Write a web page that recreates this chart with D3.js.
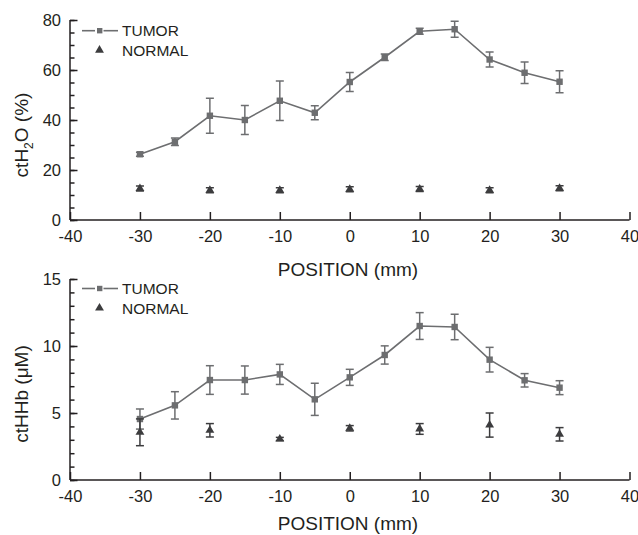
<!DOCTYPE html>
<html><head><meta charset="utf-8">
<script src="https://cdn.jsdelivr.net/npm/d3@7"></script>
<style>body{margin:0;background:#fff}svg{display:block}text{font-family:"Liberation Sans",Arial,sans-serif}</style>
</head><body>
<svg id="c" width="638" height="535"></svg>
<script>
// Data
const positions = [-30,-25,-20,-15,-10,-5,0,5,10,15,20,25,30];
const h2oTumor =    [26.3,31.3,41.7,40.0,47.7,42.9,55.2,65.1,75.5,76.3,64.2,58.9,55.3];
const h2oTumorErr = [0.8,1.5,7.0,5.8,7.9,2.8,3.8,1.3,1.2,3.2,3.0,4.3,4.4];
const normalPositions = [-30,-20,-10,0,10,20,30];
const h2oNormal =    [12.6,11.9,11.9,12.3,12.4,11.9,12.7];
const h2oNormalErr = [1.0,1.0,1.0,1.0,1.0,1.0,1.0];
const hhbTumor =    [4.55,5.57,7.46,7.46,7.88,6.02,7.66,9.33,11.49,11.42,8.98,7.44,6.89];
const hhbTumorErr = [0.75,1.02,1.07,1.05,0.75,1.2,0.6,0.68,1.0,0.95,0.92,0.5,0.52];
const hhbNormal =    [3.56,3.71,3.06,3.86,3.81,4.1,3.41];
const hhbNormalErr = [1.0,0.5,0.12,0.2,0.4,0.9,0.5];
const xTicks = [-40,-30,-20,-10,0,10,20,30,40];

const svg = d3.select("#c");
const AX = "#231f20", TUM = "#6d6e70", NOR = "#3c3c3e";
const x = d3.scaleLinear().domain([-40,40]).range([70,629.5]);
const fmt = d => String(d);

function panel(cfg){
  const y = d3.scaleLinear().domain([0,cfg.ymax]).range([cfg.y0,cfg.y1]);
  const g = svg.append("g");
  // x axis
  const xa = g.append("g").attr("transform",`translate(0,${cfg.y0})`)
    .call(d3.axisBottom(x).tickValues(xTicks).tickSize(-8).tickPadding(0).tickFormat(fmt));
  xa.select(".domain").attr("stroke",AX).attr("stroke-width",1.5).attr("d",`M70,0H629.5`);
  xa.selectAll(".tick line").attr("stroke",AX).attr("stroke-width",1.5);
  xa.selectAll(".tick text").attr("fill","#231f20").attr("font-size",16.5).attr("y",22).attr("dy",0);
  // y axis minor
  const ya2 = g.append("g").attr("transform","translate(70,0)")
    .call(d3.axisRight(y).tickValues(d3.range(0,cfg.ymax+0.001,cfg.minor)).tickSize(4.5).tickFormat(""));
  ya2.select(".domain").remove();
  ya2.selectAll(".tick line").attr("stroke",AX).attr("stroke-width",1.5);
  const ya = g.append("g").attr("transform","translate(70,0)")
    .call(d3.axisLeft(y).tickValues(d3.range(0,cfg.ymax+0.001,cfg.major)).tickSize(0).tickPadding(9).tickFormat(fmt));
  ya.select(".domain").attr("stroke",AX).attr("stroke-width",1.5).attr("d",`M0,${cfg.y0}V${cfg.y1}`);
  ya.selectAll(".tick text").attr("fill","#231f20").attr("font-size",16.5).attr("dy","0.36em");
  ya.selectAll(".tick").append("line").attr("x1",0).attr("x2",7.5).attr("stroke",AX).attr("stroke-width",1.5);

  // tumor line
  const pts = positions.map((p,i)=>({p,v:cfg.tumor[i],e:cfg.tumorErr[i]}));
  g.append("path").datum(pts).attr("fill","none").attr("stroke",TUM).attr("stroke-width",1.6)
    .attr("d",d3.line().x(d=>x(d.p)).y(d=>y(d.v)));
  function errbars(data,color){
    const eb = g.append("g").attr("stroke",color).attr("stroke-width",1.5).attr("fill","none");
    data.forEach(d=>{
      eb.append("line").attr("x1",x(d.p)).attr("x2",x(d.p)).attr("y1",y(d.v-d.e)).attr("y2",y(d.v+d.e));
      eb.append("line").attr("x1",x(d.p)-4).attr("x2",x(d.p)+4).attr("y1",y(d.v-d.e)).attr("y2",y(d.v-d.e));
      eb.append("line").attr("x1",x(d.p)-4).attr("x2",x(d.p)+4).attr("y1",y(d.v+d.e)).attr("y2",y(d.v+d.e));
    });
  }
  errbars(pts,TUM);
  g.append("g").selectAll("rect").data(pts).join("rect")
    .attr("x",d=>x(d.p)-3.2).attr("y",d=>y(d.v)-3.2).attr("width",6.4).attr("height",6.4).attr("fill",TUM);
  // normal
  const npts = normalPositions.map((p,i)=>({p,v:cfg.normal[i],e:cfg.normalErr[i]}));
  errbars(npts,NOR);
  const tri = d3.symbol().type(d3.symbolTriangle).size(34);
  g.append("g").selectAll("path").data(npts).join("path")
    .attr("transform",d=>`translate(${x(d.p)},${y(d.v)})`).attr("d",tri).attr("fill",NOR);

  // legend
  const ly = cfg.legY;
  g.append("line").attr("x1",82).attr("x2",95).attr("y1",ly).attr("y2",ly).attr("stroke",TUM).attr("stroke-width",1.6);
  g.append("line").attr("x1",103.5).attr("x2",118).attr("y1",ly).attr("y2",ly).attr("stroke",TUM).attr("stroke-width",1.6);
  g.append("rect").attr("x",97).attr("y",ly-2.7).attr("width",5.4).attr("height",5.4).attr("fill",TUM);
  g.append("text").attr("x",122).attr("y",ly+5.5).attr("font-size",15.5).attr("fill","#231f20").text("TUMOR");
  g.append("path").attr("transform",`translate(99.5,${ly+19.5})`).attr("d",tri).attr("fill",NOR);
  g.append("text").attr("x",122).attr("y",ly+25).attr("font-size",15.5).attr("fill","#231f20").text("NORMAL");

  // x label
  g.append("text").attr("x",348).attr("y",cfg.xlabY).attr("text-anchor","middle").attr("font-size",19).attr("fill","#231f20").text("POSITION (mm)");
  // y label
  const yl = g.append("text").attr("transform",`translate(28,${cfg.ylabC}) rotate(-90)`).attr("text-anchor","middle").attr("font-size",19).attr("fill","#231f20");
  cfg.ylab(yl);
}

panel({ymax:80,y0:220,y1:20,major:20,minor:5,tumor:h2oTumor,tumorErr:h2oTumorErr,normal:h2oNormal,normalErr:h2oNormalErr,
  legY:30.7,xlabY:276,ylabC:135,
  ylab:t=>{t.append("tspan").text("ctH");t.append("tspan").attr("font-size",12).attr("dy",5).text("2");t.append("tspan").attr("dy",-5).text("O (%)");}});
panel({ymax:15,y0:480,y1:279,major:5,minor:1,tumor:hhbTumor,tumorErr:hhbTumorErr,normal:hhbNormal,normalErr:hhbNormalErr,
  legY:288.5,xlabY:530,ylabC:394,
  ylab:t=>{t.text("ctHHb (μM)");}});
</script>
</body></html>
